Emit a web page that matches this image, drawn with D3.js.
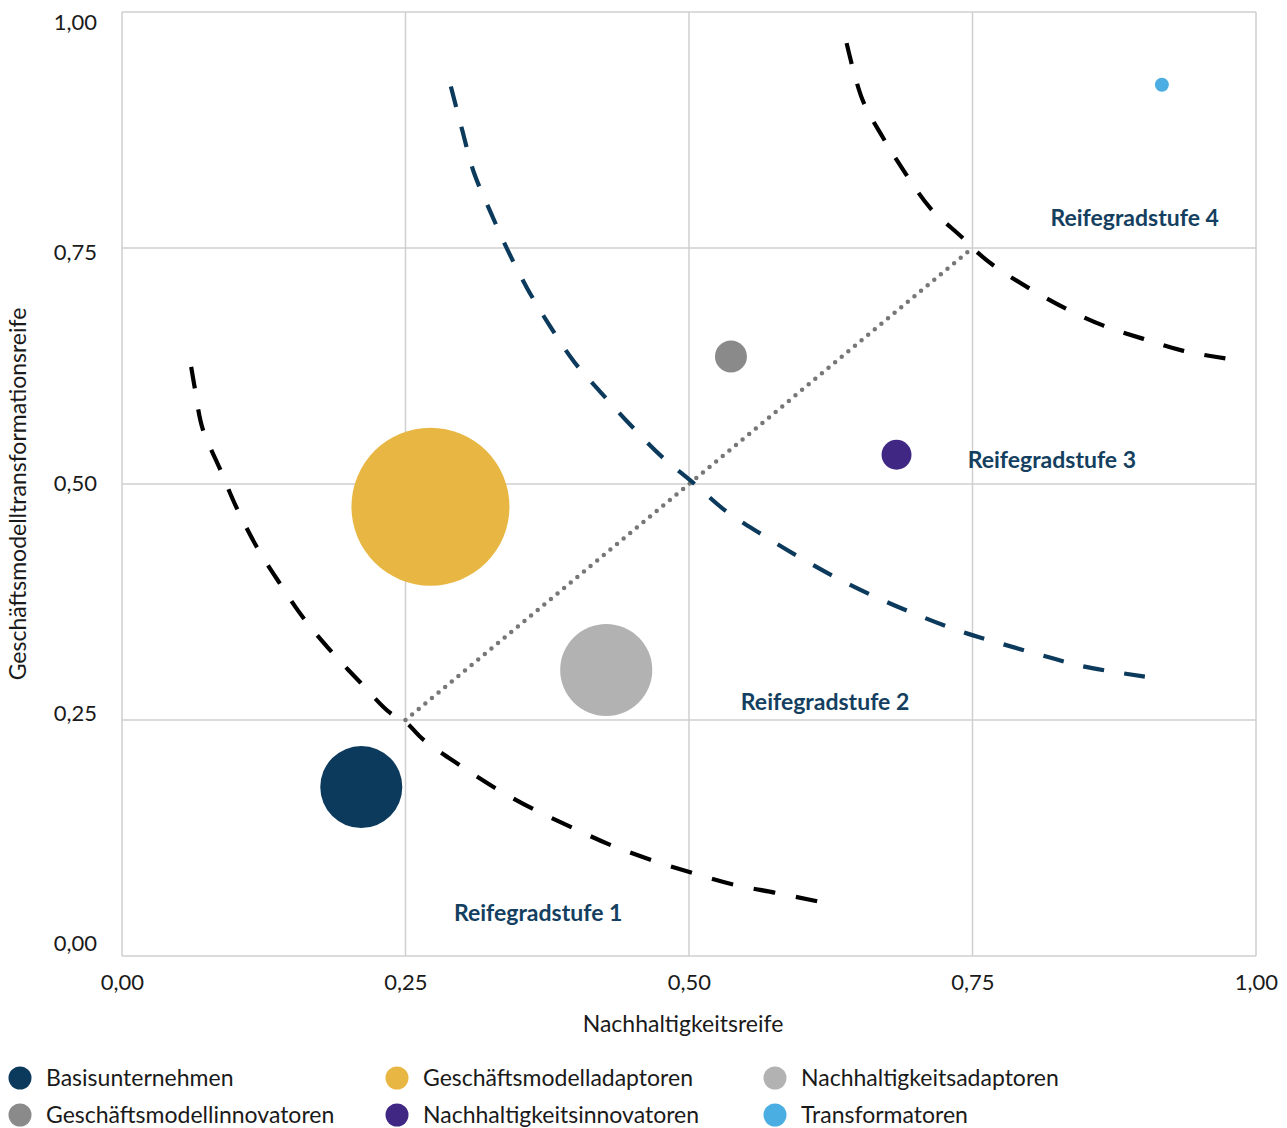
<!DOCTYPE html>
<html><head><meta charset="utf-8">
<script src="https://cdn.jsdelivr.net/npm/d3@7"></script>
<style>
html,body{margin:0;padding:0;background:#fff;}
svg{display:block;font-family:Lato,"Open Sans",sans-serif;}
</style></head>
<body><svg id="chart" width="1287" height="1128"></svg>
<script>
// ---- data ----
const groups = ["Basisunternehmen","Geschäftsmodelladaptoren","Nachhaltigkeitsadaptoren","Geschäftsmodellinnovatoren","Nachhaltigkeitsinnovatoren","Transformatoren"];
const sustainability = [0.211, 0.272, 0.427, 0.537, 0.683, 0.917];
const transformation = [0.179, 0.476, 0.303, 0.635, 0.531, 0.923];
const share = [15.8, 58.6, 19.9, 2.4, 2.1, 0.46];
const colors = ["#0c3a5c","#e8b642","#b2b2b2","#8a8a8a","#3f2783","#4aaee2"];
const legendOrder = ["Basisunternehmen","Geschäftsmodelladaptoren","Nachhaltigkeitsadaptoren","Geschäftsmodellinnovatoren","Nachhaltigkeitsinnovatoren","Transformatoren"];

const tickValues = [0, 0.25, 0.5, 0.75, 1];
const tickLabels = ["0,00","0,25","0,50","0,75","1,00"];

const curve1 = [[0.061,0.624],[0.064,0.603],[0.071,0.559],[0.086,0.517],[0.101,0.475],[0.119,0.433],[0.139,0.395],[0.160,0.358],[0.185,0.322],[0.210,0.290],[0.236,0.258],[0.250,0.248],[0.265,0.230],[0.298,0.202],[0.329,0.178],[0.362,0.156],[0.397,0.136],[0.430,0.118],[0.466,0.102],[0.503,0.088],[0.538,0.076],[0.576,0.067],[0.613,0.058]];
const curve2 = [[0.290,0.921],[0.300,0.875],[0.310,0.831],[0.325,0.788],[0.340,0.748],[0.357,0.708],[0.377,0.668],[0.399,0.629],[0.423,0.596],[0.448,0.563],[0.476,0.529],[0.503,0.502],[0.534,0.470],[0.565,0.446],[0.598,0.422],[0.631,0.400],[0.667,0.379],[0.702,0.361],[0.737,0.345],[0.772,0.332],[0.810,0.319],[0.847,0.307],[0.902,0.296]];
const curve3 = [[0.639,0.967],[0.653,0.907],[0.671,0.867],[0.692,0.827],[0.713,0.792],[0.741,0.761],[0.750,0.750],[0.768,0.732],[0.799,0.708],[0.832,0.686],[0.865,0.668],[0.900,0.654],[0.936,0.641],[0.973,0.633]];
const diagonal = [[0.25,0.25],[0.75,0.75]];

const stageLabels = ["Reifegradstufe 1","Reifegradstufe 2","Reifegradstufe 3","Reifegradstufe 4"];
const stageX = [0.367, 0.620, 0.820, 0.893];
const stageY = [0.046, 0.269, 0.525, 0.782];

// ---- layout ----
const svg = d3.select("#chart");
const L = 122, R = 1256, T = 12, B = 956;
const x = d3.scaleLinear().domain([0,1]).range([L,R]);
const y = d3.scaleLinear().domain([0,1]).range([B,T]);
const yLab = d3.scaleLinear().domain([0,1]).range([943,22]);
const r = d3.scaleSqrt().domain([0, 58.6]).range([0, 79]);

const gridColor = "#cfcfcf";
// grid
const grid = svg.append("g");
grid.selectAll("line.v").data(tickValues).join("line")
  .attr("x1", d=>x(d)).attr("x2", d=>x(d)).attr("y1", T).attr("y2", B)
  .attr("stroke", gridColor).attr("stroke-width", 1.5);
grid.selectAll("line.h").data(tickValues).join("line")
  .attr("y1", d=>y(d)).attr("y2", d=>y(d)).attr("x1", L).attr("x2", R)
  .attr("stroke", gridColor).attr("stroke-width", 1.5);

// axes labels
const fmt = d => tickLabels[tickValues.indexOf(d)];
const xAxis = svg.append("g").attr("transform", `translate(0,${B})`)
  .call(d3.axisBottom(x).tickValues(tickValues).tickFormat(fmt).tickSize(0).tickPadding(0));
const yAxis = svg.append("g").attr("transform", `translate(${L-25},0)`)
  .call(d3.axisLeft(yLab).tickValues(tickValues).tickFormat(fmt).tickSize(0).tickPadding(0));
[xAxis, yAxis].forEach(a => {
  a.select(".domain").remove();
  a.selectAll("text").attr("font-family","Lato").attr("font-size",22).attr("fill","#1a1a1a");
});
xAxis.selectAll("text").attr("y", 26).attr("dy","0.35em");
yAxis.selectAll("text").attr("dy","0.35em");

svg.append("text").attr("x", 683).attr("y", 1024).attr("dy","0.35em")
  .attr("text-anchor","middle").attr("font-size",23).attr("fill","#1a1a1a")
  .text("Nachhaltigkeitsreife");
svg.append("text").attr("transform", `translate(18,${494}) rotate(-90)`).attr("dy","0.35em")
  .attr("text-anchor","middle").attr("font-size",23).attr("fill","#1a1a1a")
  .text("Geschäftsmodelltransformationsreife");

// curves
const line = d3.line().x(d=>x(d[0])).y(d=>y(d[1])).curve(d3.curveCatmullRom);
svg.append("path").datum(diagonal).attr("d", d3.line().x(d=>x(d[0])).y(d=>y(d[1])))
  .attr("fill","none").attr("stroke","#777").attr("stroke-width",4.5)
  .attr("stroke-linecap","round").attr("stroke-dasharray","0,8.6");
const curves = [[curve1,"#000"],[curve2,"#0c3a5c"],[curve3,"#000"]];
curves.forEach(([c,col]) => {
  const p = svg.append("path").datum(c).attr("d", line).attr("fill","none")
    .attr("stroke", col).attr("stroke-width",4.2);
  // fit dash pattern so the curve starts and ends with a dash
  const len = p.node().getTotalLength();
  const dash = 21.5, gap = 20.5;
  const n = Math.max(1, Math.round((len + gap) / (dash + gap)));
  const k = (len) / (n * dash + (n - 1) * gap);
  p.attr("stroke-dasharray", `${dash*k},${gap*k}`);
});

// bubbles
const idx = d3.range(groups.length);
svg.append("g").selectAll("circle").data(idx).join("circle")
  .attr("cx", i=>x(sustainability[i])).attr("cy", i=>y(transformation[i]))
  .attr("r", i=>r(share[i])).attr("fill", i=>colors[i]);

// stage labels
svg.append("g").selectAll("text").data(stageLabels).join("text")
  .attr("x", (d,i)=>x(stageX[i])).attr("y", (d,i)=>y(stageY[i])).attr("dy","0.35em")
  .attr("text-anchor","middle").attr("font-weight","bold").attr("font-size",23)
  .attr("fill","#143f60").text(d=>d);

// legend
const colX = [20, 397, 775], rowY = [1078, 1115];
const lg = svg.append("g").selectAll("g").data(legendOrder).join("g")
  .attr("transform", (d,i)=>`translate(${colX[i%3]},${rowY[Math.floor(i/3)]})`);
lg.append("circle").attr("r", 11.5).attr("fill", d=>colors[groups.indexOf(d)]);
lg.append("text").attr("x", 26).attr("dy","0.35em").attr("font-size",23)
  .attr("fill","#1a1a1a").text(d=>d);
</script></body></html>
